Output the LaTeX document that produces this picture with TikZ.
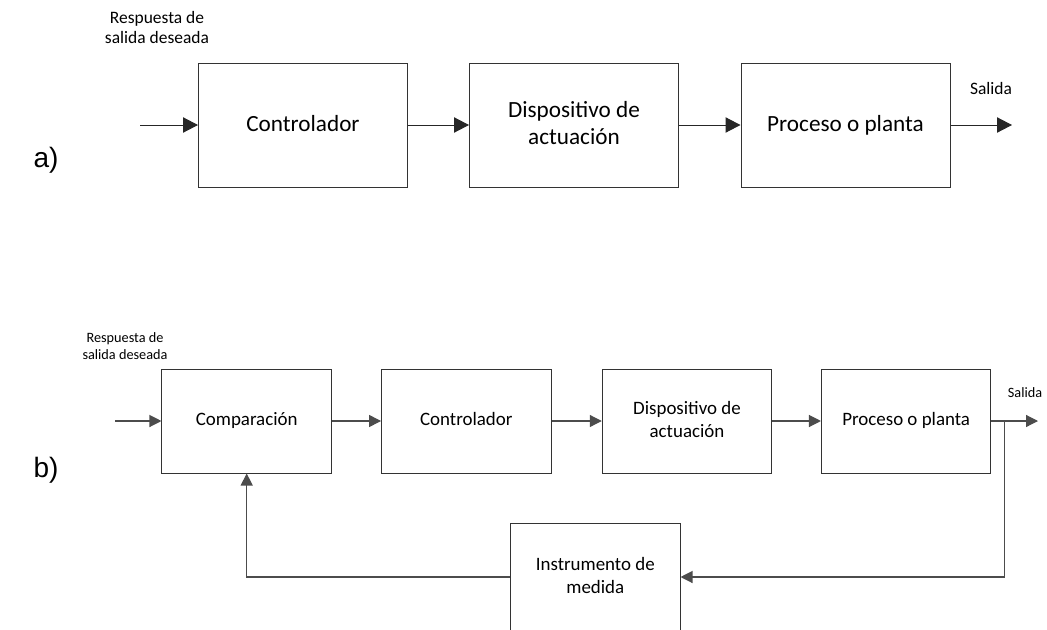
\documentclass[tikz,border=0pt]{standalone}
\usepackage{fontspec}
\setmainfont{Carlito}
\newfontfamily\tagfont{Liberation Sans}
\usetikzlibrary{arrows.meta}

% invisible struts that fix the vertical placement of box texts
\newcommand\strutbiga{\rule[-3pt]{0pt}{13.5pt}}
\newcommand\strutbigb{\rule[-2.4pt]{0pt}{11pt}}

\tikzset{
  boxbase/.style={draw=black!80, line width=0.75pt, inner sep=0pt, align=center},
  blocka/.style={boxbase, minimum width=156.75pt, minimum height=93pt,
    font=\fontsize{17.4}{20}\selectfont,
    execute at begin node={\strutbiga}, execute at end node={\strutbiga}},
  blockb/.style={boxbase, minimum width=127.1pt, minimum height=78pt,
    font=\fontsize{14.2}{16.8}\selectfont,
    execute at begin node={\strutbigb}, execute at end node={\strutbigb}},
  linka/.style={draw=black!85, line width=0.75pt,
    -{Triangle[length=11.25pt,width=11.5pt]}},
  linkb/.style={draw=black!70, line width=0.9pt,
    -{Triangle[length=9pt,width=9pt]}},
  notea/.style={align=center, inner sep=0pt, font=\fontsize{13.1}{15}\selectfont},
  noteb/.style={align=center, inner sep=0pt, font=\fontsize{10.7}{12.75}\selectfont},
  parttag/.style={inner sep=0pt, font=\tagfont\fontsize{21}{24}\selectfont},
}

\begin{document}
\begin{tikzpicture}[x=0.75pt,y=-0.75pt]
\useasboundingbox[fill=white] (0,0) rectangle (1047,629);

% ---- a) open loop ----
\node[parttag] (taga) at (46,160) {a)};
\node[notea] (refa) at (157,27) {Respuesta de\\salida deseada};
\node[notea] (outla) at (991,88) {Salida};

\node[blocka] (ctla) at (303,125) {Controlador};
\node[blocka] (acta) at (574,125) {Dispositivo de\\actuación};
\node[blocka] (plta) at (845.5,125) {Proceso o planta};

\coordinate (ina) at (140,125);
\coordinate (outa) at (1012,125);

\draw[linka] (ina) -- (ctla.west);
\draw[linka] (ctla.east) -- (acta.west);
\draw[linka] (acta.east) -- (plta.west);
\draw[linka] (plta.east) -- (outa);

% ---- b) closed loop ----
\node[parttag] (tagb) at (46,470) {b)};
\node[noteb] (refb) at (125,346) {Respuesta de\\salida deseada};
\node[noteb] (outlb) at (1025,393) {Salida};

\node[blockb] (cmpb) at (246.7,421) {Comparación};
\node[blockb] (ctlb) at (466.3,421) {Controlador};
\node[blockb] (actb) at (687,421) {Dispositivo de\\actuación};
\node[blockb] (pltb) at (906.2,421) {Proceso o planta};
% the measuring block runs past the lower edge of the page
\node[blockb, minimum height=81pt] (meas) at (595.3,577) {Instrumento de\\medida};

\coordinate (inb) at (115,421);
\coordinate (outb) at (1038,421);
\coordinate (tap) at (1004.3,421);

\draw[linkb] (inb) -- (cmpb.west);
\draw[linkb] (cmpb.east) -- (ctlb.west);
\draw[linkb] (ctlb.east) -- (actb.west);
\draw[linkb] (actb.east) -- (pltb.west);
\draw[linkb] (pltb.east) -- (outb);
\draw[linkb] (tap) |- (meas.east);
\draw[linkb] (meas.west) -| (cmpb.south);
\end{tikzpicture}
\end{document}
